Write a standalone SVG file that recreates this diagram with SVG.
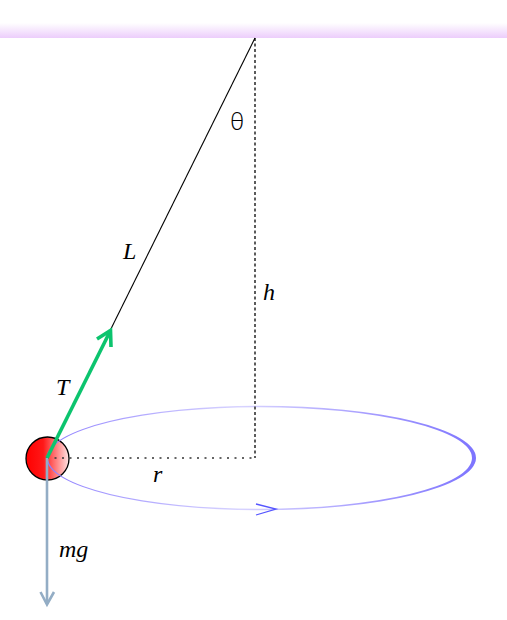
<svg xmlns="http://www.w3.org/2000/svg" width="507" height="620" viewBox="0 0 507 620">
<defs>
<linearGradient id="ceil" x1="0" y1="23" x2="0" y2="38" gradientUnits="userSpaceOnUse">
<stop offset="0" stop-color="#ffffff"/>
<stop offset="1" stop-color="#eccdfb"/>
</linearGradient>
<linearGradient id="ballg" x1="26" y1="0" x2="69" y2="0" gradientUnits="userSpaceOnUse">
<stop offset="0" stop-color="#ff0000"/>
<stop offset="0.4" stop-color="#ff1818"/>
<stop offset="1" stop-color="#ffe4e4"/>
</linearGradient>
<linearGradient id="orb" x1="47" y1="0" x2="476" y2="0" gradientUnits="userSpaceOnUse">
<stop offset="0" stop-color="#8c7cff"/>
<stop offset="0.15" stop-color="#a89eff"/>
<stop offset="0.45" stop-color="#d8d4ff"/>
<stop offset="0.75" stop-color="#a69dff"/>
<stop offset="1" stop-color="#7d74ff"/>
</linearGradient>
<style>
.lbl{font-family:"Liberation Serif","Times New Roman",serif;font-style:italic;font-size:24px;fill:#000}
.dot{fill:none;stroke:#333;stroke-width:1.6}
</style>
</defs>
<g id="ceiling">
<rect x="0" y="23" width="507" height="15" fill="url(#ceil)"/>
</g>
<g id="bob">
<circle cx="47.5" cy="458.5" r="21.5" fill="url(#ballg)" stroke="#000" stroke-width="1.3"/>
</g>
<g id="orbit">
<path fill="url(#orb)" fill-rule="evenodd" d="M46.6,458 a214.7,52.2 0 1,0 429.4,0 a214.7,52.2 0 1,0 -429.4,0 Z M48,458 a212,50.8 0 1,0 424,0 a212,50.8 0 1,0 -424,0 Z"/>
<polyline points="256,504 276,509 256,515" fill="none" stroke="#5555ff" stroke-width="1.3"/>
</g>
<g id="connectors">
<line class="dot" x1="255" y1="38" x2="255" y2="458" stroke-dasharray="3,2.5"/>
<line class="dot" x1="47" y1="458" x2="255" y2="458" stroke-dasharray="2,5.5"/>
<line x1="255" y1="38" x2="47" y2="458" stroke="#000" stroke-width="1.1"/>
<line x1="47" y1="458" x2="110.5" y2="330.5" stroke="#0cc46e" stroke-width="3.6"/>
<polyline points="97,339 110.5,330.5 111,347" fill="none" stroke="#0cc46e" stroke-width="3.6"/>
<line x1="47" y1="458" x2="47" y2="604" stroke="#93adc5" stroke-width="2.6"/>
<polyline points="40.5,592 47,604.5 54,592" fill="none" stroke="#93adc5" stroke-width="2.6"/>
</g>
<g id="labels">
<text x="237" y="130" text-anchor="middle" style="font-family:'Open Sans',sans-serif;font-weight:300;font-size:24px">θ</text>
<text class="lbl" x="123" y="259">L</text>
<text class="lbl" x="263" y="300">h</text>
<text class="lbl" x="56" y="395">T</text>
<text class="lbl" x="153" y="482">r</text>
<text class="lbl" x="59" y="557">mg</text>
</g>
</svg>
